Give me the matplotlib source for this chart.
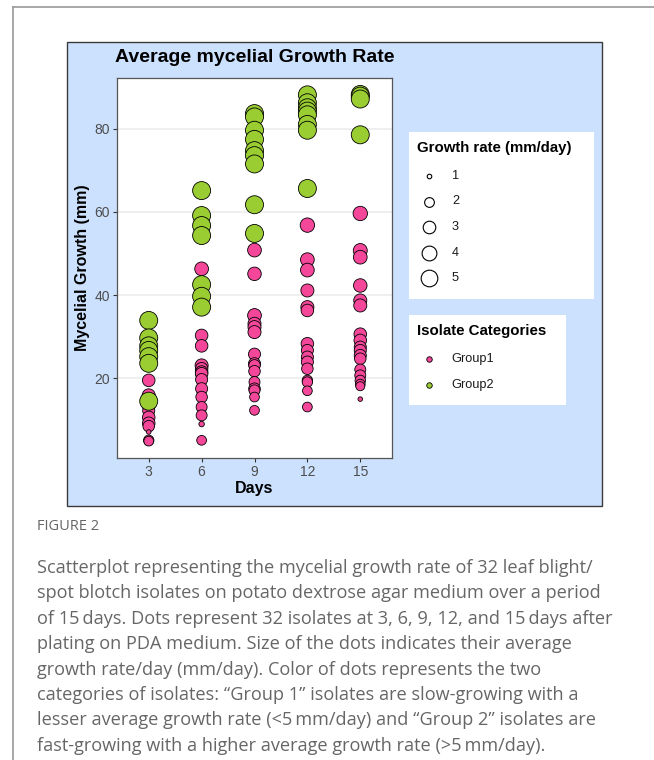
import numpy as np
import matplotlib.pyplot as plt
from matplotlib.patches import Rectangle

plt.rcParams['font.family'] = ['Liberation Sans', 'DejaVu Sans']

W, H = 654, 760

days = [3, 6, 9, 12, 15]
day_labels = ['3', '6', '9', '12', '15']

# Group1 (slow-growing) isolates: colony growth (mm) and average rate (mm/day)
g1_d3 = [19.5, 15.9, 13.3, 12.2, 10.6, 9.2, 8.5, 7.1, 5.1, 4.9]
g1_d3_rate = [3.0, 3.2, 3.0, 2.8, 3.0, 3.0, 2.6, 1.0, 2.2, 2.0]
g1_d6 = [46.3, 30.3, 27.8, 23.1, 22.3, 21.5, 21.1, 19.7, 17.5, 15.5, 13.1, 11.1, 9.0, 5.1]
g1_d6_rate = [3.5, 3.0, 3.0, 3.2, 3.0, 3.0, 3.0, 2.8, 2.8, 2.6, 2.4, 2.4, 1.1, 2.0]
g1_d9 = [50.8, 45.1, 35.1, 33.1, 32.3, 31.1, 25.8, 23.5, 23.1, 21.7, 19.1, 17.5, 17.1, 15.5, 12.3]
g1_d9_rate = [3.5, 3.4, 3.5, 3.2, 3.2, 3.2, 2.8, 2.8, 2.6, 2.6, 2.4, 2.6, 2.4, 2.0, 2.0]
g1_d12 = [56.8, 48.5, 46.0, 41.1, 37.1, 36.3, 28.3, 26.7, 25.1, 23.9, 22.3, 19.5, 19.1, 17.0, 13.1]
g1_d12_rate = [3.8, 3.5, 3.5, 3.2, 3.2, 3.0, 3.0, 2.8, 2.8, 2.8, 2.6, 2.2, 2.2, 2.0, 2.0]
g1_d15 = [59.6, 50.7, 49.1, 42.3, 38.7, 37.5, 30.6, 29.1, 27.5, 26.7, 25.5, 24.7,
          22.1, 20.7, 19.5, 18.6, 18.1, 15.0]
g1_d15_rate = [3.8, 3.6, 3.5, 3.4, 3.2, 3.2, 3.0, 3.0, 2.8, 2.8, 2.8, 2.6,
               2.4, 2.4, 2.2, 2.0, 1.8, 1.0]

# Group2 (fast-growing) isolates
g2_d3 = [33.9, 29.7, 27.8, 26.7, 25.2, 23.6, 14.5]
g2_d6 = [65.1, 59.1, 56.7, 54.3, 42.5, 39.7, 37.1]
g2_d9 = [83.6, 82.8, 79.6, 77.4, 74.7, 73.5, 71.5, 61.7, 54.8]
g2_d12 = [88.1, 86.2, 85.0, 84.2, 83.3, 81.0, 79.6, 65.6]
g2_d15 = [88.2, 87.8, 87.1, 78.5]
g2_rate = 5.8

size_breaks = [1, 2, 3, 4, 5]
group_names = ['Group1', 'Group2']
pink = '#F4479A'
green = '#9ACD32'

caption = [
    "Scatterplot representing the mycelial growth rate of 32 leaf blight/",
    "spot blotch isolates on potato dextrose agar medium over a period",
    "of 15\u2009days. Dots represent 32 isolates at 3, 6, 9, 12, and 15\u2009days after",
    "plating on PDA medium. Size of the dots indicates their average",
    "growth rate/day (mm/day). Color of dots represents the two",
    "categories of isolates: \u201cGroup 1\u201d isolates are slow-growing with a",
    "lesser average growth rate (<5\u2009mm/day) and \u201cGroup 2\u201d isolates are",
    "fast-growing with a higher average growth rate (>5\u2009mm/day).",
]


def rate_px(r):
    # area-style size scale: diameter in pixels
    r = np.asarray(r, dtype=float)
    return 2.3 + 16.0 * np.sqrt(np.clip((r - 0.9) / 5.1, 0, 1))


def rate_area(r):
    return (0.72 * rate_px(r)) ** 2


fig = plt.figure(figsize=(W / 100, H / 100), dpi=100)

# page-level layer in pixel units: frame, panel background, legends, caption
lay = fig.add_axes([0, 0, 1, 1], zorder=-1)
lay.set_xlim(0, W)
lay.set_ylim(H, 0)
lay.axis('off')
lay.plot([12.5, W], [7, 7], color='#9a9a9a', lw=1.2)
lay.plot([12.5, 12.5], [7, H], color='#9a9a9a', lw=1.2)
lay.add_patch(Rectangle((67, 42), 535, 464, facecolor='#CCE1FE',
                        edgecolor='#3a3a3a', lw=1.0))

# size legend
lay.add_patch(Rectangle((409, 132), 185, 167, facecolor='white', edgecolor='none'))
lay.text(417, 148, 'Growth rate (mm/day)', fontsize=10.8, fontweight='bold',
         va='center', ha='left')
for i, b in enumerate(size_breaks):
    yy = 176 + 25.5 * i
    lay.scatter([429], [yy], s=rate_area(b), facecolor='white',
                edgecolor='black', linewidth=0.8, zorder=3)
    lay.text(452, yy, str(b), fontsize=9.2, color='#1a1a1a', va='center')

# colour legend
lay.add_patch(Rectangle((409, 315), 157, 90, facecolor='white', edgecolor='none'))
lay.text(417, 331, 'Isolate Categories', fontsize=10.8, fontweight='bold',
         va='center', ha='left')
for i, (name, col) in enumerate(zip(group_names, [pink, green])):
    yy = 359 + 26 * i
    lay.scatter([429], [yy], s=(0.72 * 5.5) ** 2, facecolor=col,
                edgecolor='black', linewidth=0.6, zorder=3)
    lay.text(451, yy, name, fontsize=9.2, color='#1a1a1a', va='center')

lay.text(115, 58, 'Average mycelial Growth Rate', fontsize=14,
         fontweight='bold', va='center', ha='left')
lay.text(83, 268, 'Mycelial Growth (mm)', fontsize=11.5, fontweight='bold',
         rotation=90, va='center', ha='center')
lay.text(254, 489, 'Days', fontsize=11.5, fontweight='bold',
         va='center', ha='center')

cap_font = ['Open Sans', 'DejaVu Sans']
lay.text(37, 527, 'FIGURE 2', fontsize=10.5, color='#666666',
         family=cap_font, va='center')
for i, line in enumerate(caption):
    lay.text(37, 568 + 25.4 * i, line, fontsize=13.1, color='#666666',
             family=cap_font, va='center')

# main scatter panel
ax = fig.add_axes([117 / W, 1 - 458 / H, 275 / W, 380 / H])
ax.set_facecolor('white')
ax.set_xlim(1.2, 16.8)
ax.set_ylim(0.85, 92.15)
ax.set_xticks(days)
ax.set_xticklabels(day_labels)
ax.set_yticks([20, 40, 60, 80])
ax.grid(axis='y', color='#ebebeb', lw=1.1)
ax.set_axisbelow(True)
for sp in ax.spines.values():
    sp.set_color('#555555')
    sp.set_linewidth(0.9)
ax.tick_params(length=3, width=0.8, color='#333333', labelcolor='#4d4d4d',
               labelsize=10, pad=2)

g1_sets = [(g1_d3, g1_d3_rate), (g1_d6, g1_d6_rate), (g1_d9, g1_d9_rate),
           (g1_d12, g1_d12_rate), (g1_d15, g1_d15_rate)]
g2_sets = [g2_d3, g2_d6, g2_d9, g2_d12, g2_d15]

for d, (vals, rates) in zip(days, g1_sets):
    ax.scatter([d] * len(vals), vals, s=rate_area(rates), facecolor=pink,
               edgecolor='black', linewidth=0.6, zorder=3)
for d, vals in zip(days, g2_sets):
    ax.scatter([d] * len(vals), vals, s=rate_area([g2_rate] * len(vals)),
               facecolor=green, edgecolor='black', linewidth=0.6, zorder=4)

fig.savefig('out.png', dpi=100)
